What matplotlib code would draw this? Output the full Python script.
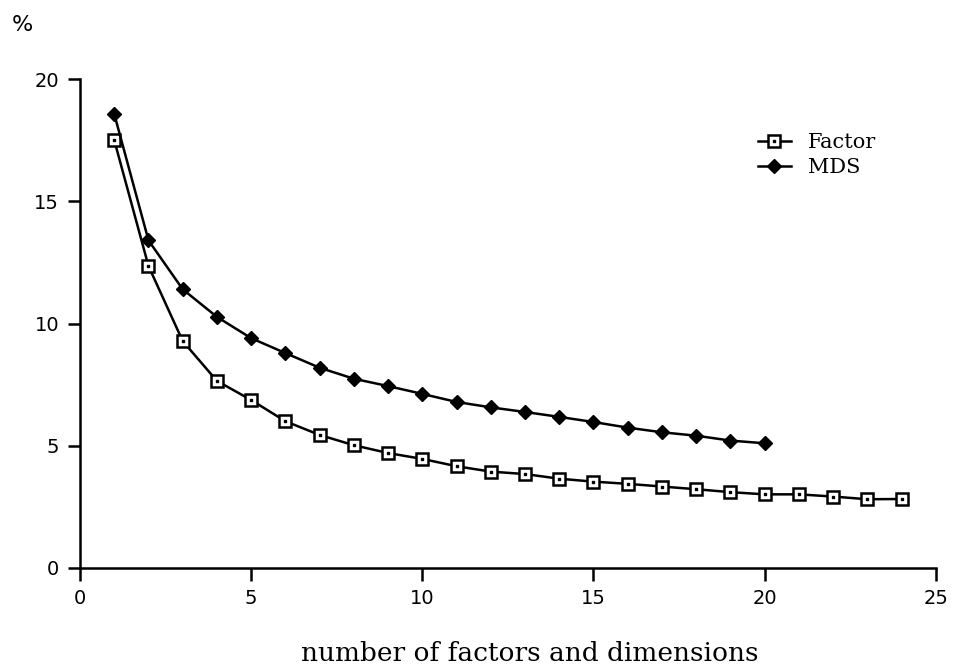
import numpy as np
import matplotlib
matplotlib.use("Agg")
import matplotlib.pyplot as plt
from matplotlib.legend_handler import HandlerTuple

# Valori
factor_x = list(range(1, 25))
factor_y = [17.5, 12.35, 9.28, 7.65, 6.87, 6.0, 5.44, 5.02, 4.70, 4.46, 4.16, 3.94,
            3.84, 3.65, 3.53, 3.44, 3.33, 3.22, 3.10, 3.01, 3.01, 2.92, 2.81, 2.82]
mds_x = list(range(1, 21))
mds_y = [18.57, 13.4, 11.4, 10.27, 9.4, 8.79, 8.19, 7.74, 7.44, 7.12, 6.79, 6.57,
         6.38, 6.18, 5.97, 5.74, 5.55, 5.41, 5.21, 5.10]
x_ticks = [0, 5, 10, 15, 20, 25]
y_ticks = [0, 5, 10, 15, 20]

fig = plt.figure(figsize=(9.54, 6.65), dpi=100)
ax = fig.add_axes([0.0839, 0.146, 0.897, 0.735])

l_fac, = ax.plot(factor_x, factor_y, color="black", lw=1.8, marker="s", ms=8,
                 mfc="white", mec="black", mew=1.8, zorder=3)
d_fac, = ax.plot(factor_x, factor_y, ls="none", marker="s", ms=2,
                 color="black", zorder=4)
l_mds, = ax.plot(mds_x, mds_y, color="black", lw=1.8, marker="D", ms=7.5,
                 mfc="black", mec="black", zorder=3)

ax.set_xlim(0, 25)
ax.set_ylim(0, 20)
ax.set_xticks(x_ticks)
ax.set_yticks(y_ticks)
ax.spines["top"].set_visible(False)
ax.spines["right"].set_visible(False)
for s in ["left", "bottom"]:
    ax.spines[s].set_linewidth(1.8)
ax.tick_params(direction="out", length=9, width=1.8, labelsize=14, pad=6)
for lab in ax.get_xticklabels() + ax.get_yticklabels():
    lab.set_family("DejaVu Sans")

ax.set_xlabel("number of factors and dimensions", family="DejaVu Serif",
              fontsize=19)
ax.xaxis.set_label_coords(0.526, -0.15)

fig.text(0.012, 0.962, "%", fontsize=16, family="DejaVu Sans", va="center")

leg = ax.legend([(l_fac, d_fac), l_mds], ["Factor", "MDS"],
                handler_map={tuple: HandlerTuple(ndivide=1, pad=0)},
                loc="upper left", bbox_to_anchor=(0.77, 0.928), frameon=False,
                prop={"family": "DejaVu Serif", "size": 15},
                handlelength=1.6, handletextpad=0.8, labelspacing=0.3)

fig.savefig("out.png", dpi=100)
